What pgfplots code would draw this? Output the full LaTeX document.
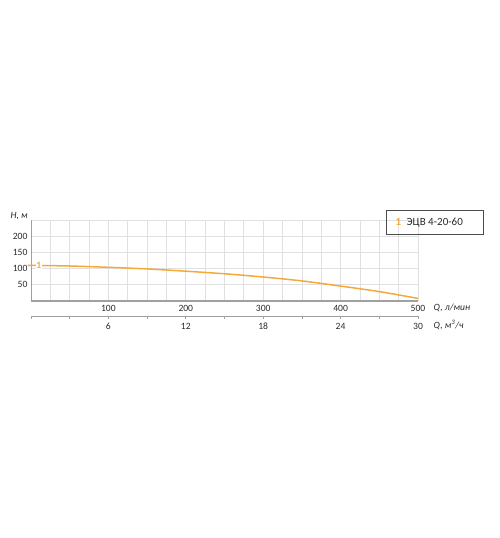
\documentclass[border=0pt]{standalone}
\usepackage{fontspec}
\setmainfont{Carlito}
\usepackage{pgfplots}
\pgfplotsset{compat=1.18}
\definecolor{curve}{HTML}{F5A93B}
\definecolor{gridc}{HTML}{E0E0E0}
\definecolor{axc}{HTML}{A0A0A0}
\definecolor{txt}{HTML}{2A2A2A}
\begin{document}
\begin{tikzpicture}[x=1pt,y=1pt]
\path[use as bounding box] (0,0) rectangle (500,538);
\begin{axis}[
  at={(31pt,237pt)}, anchor=south west,
  width=387pt, height=81pt, scale only axis,
  xmin=0, xmax=500, ymin=0, ymax=250,
  axis x line=bottom, axis y line=left,
  x axis line style={-, draw=axc, line width=1.6pt},
  y axis line style={-, draw=axc, line width=0.8pt},
  xtick={100,200,300,400,500},
  minor xtick={25,50,...,475},
  ytick={50,100,150,200,250},
  yticklabels={50,100,150,200,},
  grid=both,
  grid style={draw=gridc, line width=0.7pt},
  minor grid style={draw=gridc, line width=0.7pt},
  major tick length=0pt, minor tick length=0pt,
  tick label style={font=\fontsize{9.6}{10}\selectfont, text=txt},
  /pgf/number format/assume math mode=true,
  xticklabel style={text height=6.5pt, text depth=0pt, yshift=-0.5pt},
  clip=false,
]
\addplot[curve, line width=1.5pt, smooth] coordinates {
(-3,110) (0,110) (50,108) (100,104) (150,99) (200,92) (250,84) (300,74) (350,62) (400,46) (450,29) (500,8)
};
\node[fill=white, inner sep=0.8pt, text=curve, font=\fontsize{9.6}{10}\selectfont\bfseries] at (axis cs:10,110) {1};
\end{axis}
\begin{axis}[
  at={(31pt,222pt)}, anchor=south west,
  width=387pt, height=1pt, scale only axis,
  xmin=0, xmax=30, ymin=0, ymax=1,
  axis x line=bottom, axis y line=none,
  axis line style={-, draw=axc, line width=0.8pt},
  xtick={0,3,...,30},
  xticklabels={,,6,,12,,18,,24,,30},
  tick align=outside, major tick length=3pt,
  tick style={draw=axc, line width=0.8pt},
  tick label style={font=\fontsize{9.6}{10}\selectfont, text=txt},
  xticklabel style={text height=6.5pt, text depth=0pt},
  /pgf/number format/assume math mode=true,
]
\addplot[draw=none] coordinates {(0,0) (30,0)};
\end{axis}
\node[anchor=west, font=\fontsize{9.6}{10}\selectfont\itshape, text=txt] at (430,230) {Q, л/мин};
\node[anchor=west, font=\fontsize{9.6}{10}\selectfont\itshape, text=txt] at (430,213) {Q, м\textsuperscript{3}/ч};
\node[anchor=west, font=\fontsize{9.6}{10}\selectfont\itshape, text=txt] at (7,322) {H, м};
\draw[draw=black!70, line width=0.8pt] (386,304) rectangle (483,328);
\node[anchor=base west, font=\fontsize{11}{12}\selectfont\bfseries, text=curve, inner sep=0pt] at (395.5,312) {1};
\node[anchor=base west, font=\fontsize{11}{12}\selectfont, text=txt, inner sep=0pt] at (406.5,312) {ЭЦВ 4-20-60};
\end{tikzpicture}
\end{document}
